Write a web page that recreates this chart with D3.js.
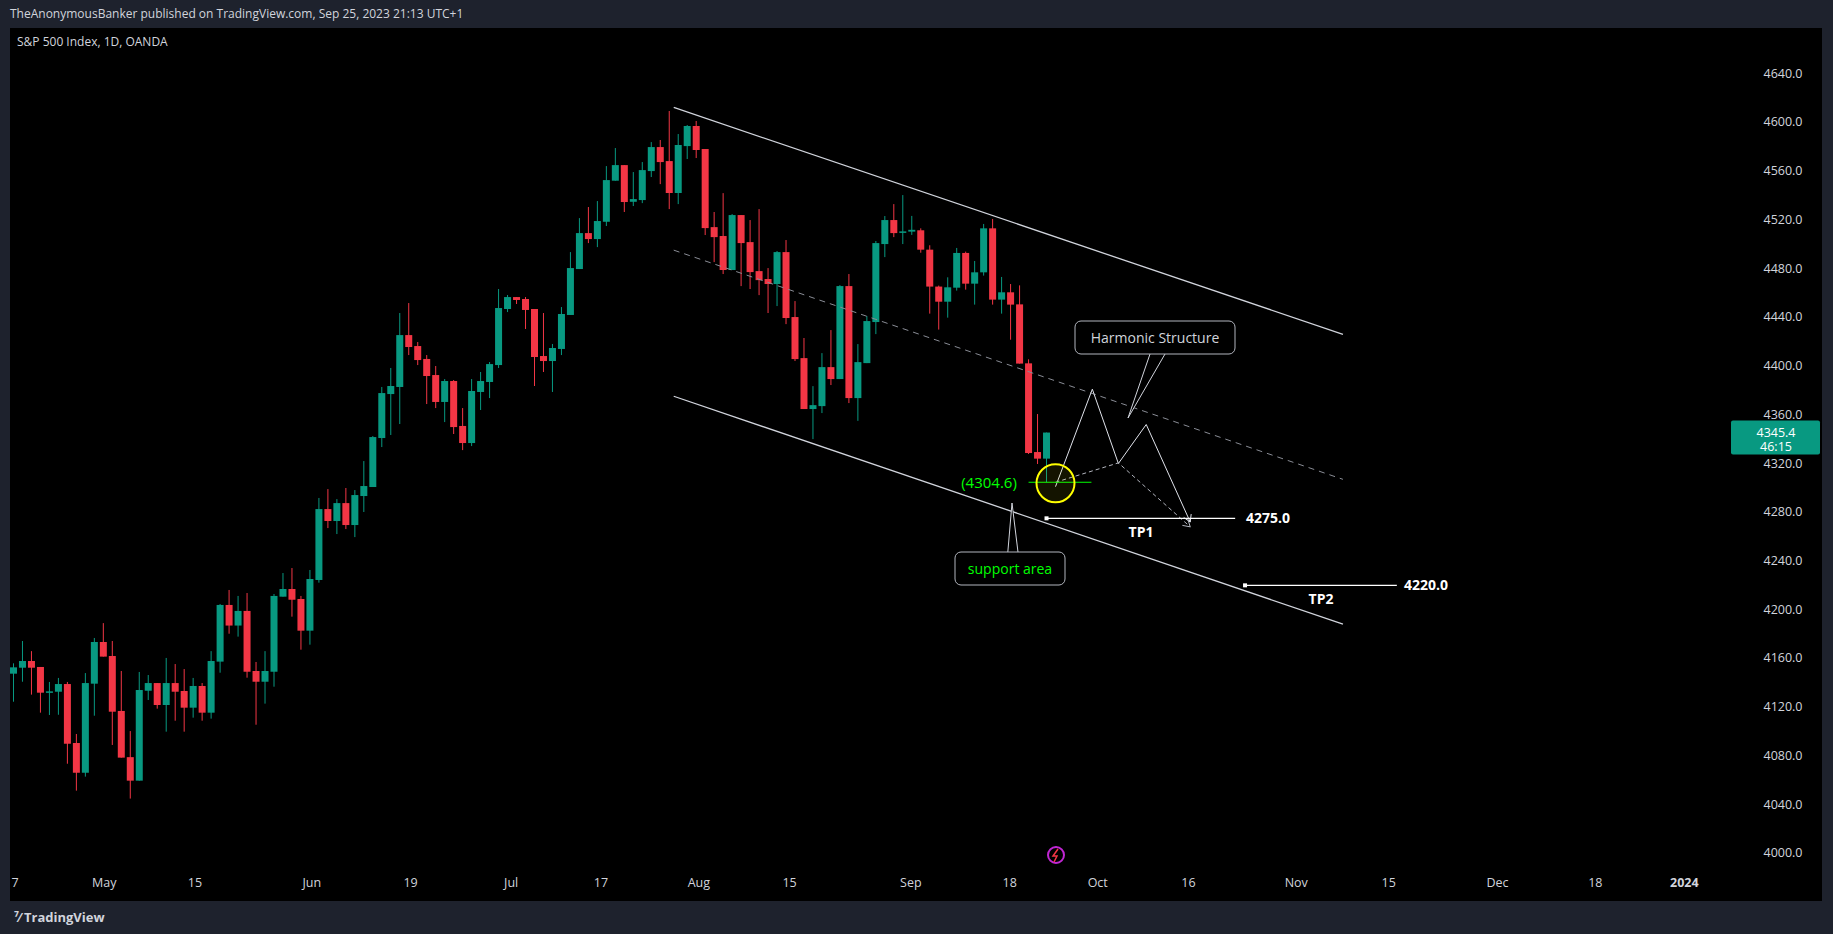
<!DOCTYPE html>
<html><head><meta charset="utf-8">
<script src="https://cdn.jsdelivr.net/npm/d3@7"></script>
<style>body{margin:0;background:#1e222d;overflow:hidden}svg{display:block}text{font-family:"Open Sans","Noto Sans",sans-serif}</style>
</head><body><svg id="c" width="1833" height="934"></svg>
<script>
const opens=[4147.5,4152.4,4157.9,4153,4132.2,4132.7,4139,4090.6,4066.2,4139.3,4173.5,4162,4116.9,4079,4059.7,4133.5,4139.8,4121.8,4139.8,4133.3,4119.6,4137.4,4115.5,4157.4,4203.9,4187,4199,4149.7,4140.9,4149.1,4210.7,4217,4208.8,4182.8,4224.4,4282.6,4272.8,4287.5,4269.5,4293.3,4300.7,4340.9,4377,4382.8,4425.4,4416.4,4405.8,4392.6,4370.5,4387.7,4350.8,4336.8,4378.7,4386.9,4400.8,4446.8,4456.6,4455,4446.8,4408.2,4404.1,4414,4441.9,4479.6,4509.1,4504.2,4518.4,4552.1,4564.9,4534.8,4536.2,4560,4579.7,4568.2,4542,4580.5,4597,4578.1,4514,4506.7,4478.8,4523.9,4501.7,4477.9,4471.4,4467.3,4493.5,4440.2,4406.5,4364.7,4367.1,4399.1,4389.3,4465.6,4373.7,4402.4,4436.1,4500.1,4519.8,4509.7,4510.3,4511.4,4495.5,4465.2,4452.8,4464.3,4492.8,4467.6,4476.9,4513,4454.5,4460.5,4450.6,4402.2,4329.4,4324];
const highs=[4156,4174.3,4166,4153,4140.7,4144,4140.7,4098,4148,4176.8,4189,4174.3,4149.7,4100.4,4148.9,4146.4,4139.8,4160.4,4155.4,4151.3,4144,4139.8,4166,4204.7,4216.2,4211.3,4213.7,4157.1,4166,4212.9,4230.1,4234.2,4211.3,4232.6,4291.7,4299,4290.8,4299.9,4298.2,4322,4342.5,4382.8,4398.4,4443.5,4451.7,4419.7,4409,4400,4389.3,4388.5,4365.5,4389.3,4395.1,4403.3,4463.2,4458.3,4456.6,4456.6,4446.8,4443.5,4418.1,4448.4,4493.5,4521.4,4530.5,4535.4,4564.1,4578.9,4564.9,4559.2,4567.4,4583.8,4585.5,4609.3,4590.4,4597.8,4601.1,4578.1,4526.4,4541.9,4524.7,4523.9,4519.8,4528.8,4480.4,4494.4,4503.4,4453.3,4423,4383.5,4410.6,4429.5,4466.4,4475.5,4418,4441,4502.6,4523.1,4532.9,4540.3,4523.2,4513,4499.1,4466,4472.8,4496.9,4493.9,4486.2,4516.6,4520.7,4473.1,4467.3,4466.2,4405.5,4360.6,4345.4];
const lows=[4124.5,4140.9,4130.3,4115.5,4113.6,4113.8,4073.6,4051.5,4063,4113,4161.5,4089,4078.6,4045,4059.7,4125.9,4118.8,4099.9,4108.9,4099.9,4111.4,4108.9,4110.6,4148.3,4180.3,4177.9,4144.2,4105.6,4122.9,4136.8,4210.7,4194.3,4167.2,4171.3,4222.2,4267,4262.1,4266.2,4259.6,4280.2,4300.7,4333.5,4343.4,4352.4,4409,4400.8,4368.8,4365.5,4354,4344.2,4331,4334.3,4363.9,4373.7,4398.4,4444.3,4450.9,4430.4,4383.6,4395.1,4378.7,4409,4441.9,4479.6,4500.9,4497.6,4514.9,4552.1,4526.4,4531.3,4533.7,4555.1,4549.3,4528.8,4532.9,4569.9,4570.7,4507.5,4485.3,4475.5,4478.8,4465.6,4463.2,4458.2,4443.5,4449.2,4434.4,4404.1,4364.7,4340,4361.4,4384.4,4389.3,4369.6,4355,4402.4,4426.2,4489.4,4505.8,4500.1,4507.6,4493,4443,4429.9,4439.7,4461.9,4462.7,4450.4,4474.2,4450.4,4443,4421.6,4402,4327.8,4319.6,4304.6];
const closes=[4152.7,4157.9,4152.4,4131.9,4133,4139,4090,4066.2,4139.8,4173.5,4161.5,4116.3,4078.6,4059.7,4134.1,4139.8,4121.8,4139.8,4132.7,4119.6,4137.4,4115.5,4157.9,4203.9,4187,4199,4149.1,4140.9,4149.7,4211.3,4217,4208.2,4182.8,4225.2,4282.6,4272.8,4287.5,4269.5,4294.1,4301.5,4341.7,4377.8,4383.6,4425.4,4415.6,4404.9,4391.8,4370.5,4387.7,4349.9,4336.8,4379.5,4387.7,4401.6,4447.6,4456.6,4454.2,4446,4407.4,4404.1,4414.8,4442.7,4480.4,4509.1,4504.2,4519,4552.6,4564.9,4534.6,4537,4560.8,4579.7,4567.4,4542,4581.4,4597,4577.3,4513.2,4505.8,4478.8,4523.9,4500.9,4477.1,4470.5,4467.3,4493.5,4439.4,4405.7,4364.7,4367.9,4399.1,4389.3,4465.6,4373.7,4403.2,4436.9,4500.9,4519.8,4509.1,4510.5,4511.8,4495.5,4465.2,4452.8,4464.6,4492.8,4467.6,4476.9,4513,4454.5,4460.5,4450.4,4402,4328.6,4324,4345.4];
const priceTicks=[4000,4040,4080,4120,4160,4200,4240,4280,4320,4360,4400,4440,4480,4520,4560,4600,4640];
const timeLabels=["May","15","Jun","19","Jul","17","Aug","15","Sep","18","Oct","16","Nov","15","Dec","18","2024"];
const timeIdx=[10.1,20.2,33.2,44.2,55.4,65.4,76.3,86.4,99.9,110.9,120.7,130.8,142.8,153.1,165.2,176.1,186];
const upperLine=[[73.5,4612.2],[148,4426]];
const lowerLine=[[73.5,4375.2],[148,4188.1]];
const midLine=[[73.5,4495.1],[148,4307]];
const zigzag=[[116,4301],[120.1,4381],[123,4320],[126.1,4352],[131,4272]];
const dashedPath=[[116,4304.6],[123,4320.5],[131,4268]];

const svg=d3.select("#c");
const x=d3.scaleLinear().domain([0,116]).range([13.5,1055.5]);
const y=d3.scaleLinear().domain([4000,4640]).range([853.4,73.6]);
const G="#089981",R="#f23645";
svg.append("rect").attr("x",0).attr("y",0).attr("width",1833).attr("height",934).attr("fill","#1e222d");
svg.append("rect").attr("x",10).attr("y",28).attr("width",1812).attr("height",873).attr("fill","#000");
svg.append("text").attr("x",10).attr("y",18).attr("fill","#d1d4dc").attr("font-size",12).text("TheAnonymousBanker published on TradingView.com, Sep 25, 2023 21:13 UTC+1");
svg.append("text").attr("x",17).attr("y",46).attr("fill","#d1d4dc").attr("font-size",12).text("S&P 500 Index, 1D, OANDA");
const g=svg.append("g");
const idx=d3.range(opens.length);
g.selectAll(".w").data(idx).join("line").attr("x1",i=>x(i)).attr("x2",i=>x(i)).attr("y1",i=>y(highs[i])).attr("y2",i=>y(lows[i])).attr("stroke",i=>closes[i]>=opens[i]?G:R).attr("stroke-width",1);
g.selectAll(".b").data(idx).join("rect").attr("x",i=>x(i)-3.5).attr("width",7).attr("y",i=>y(Math.max(opens[i],closes[i]))).attr("height",i=>Math.max(1.5,Math.abs(y(opens[i])-y(closes[i])))).attr("fill",i=>closes[i]>=opens[i]?G:R);
const pa=svg.append("g");
pa.selectAll("text").data(priceTicks).join("text").attr("x",1783).attr("y",d=>y(d)+4).attr("text-anchor","middle").attr("fill","#d1d4dc").attr("font-size",12.5).text(d=>d.toFixed(1));
svg.append("text").attr("x",15).attr("y",887).attr("text-anchor","middle").attr("fill","#d1d4dc").attr("font-size",12.5).text("7");
svg.selectAll(".t").data(timeIdx).join("text").attr("x",d=>x(d)).attr("y",887).attr("text-anchor","middle").attr("fill","#d1d4dc").attr("font-size",12.5).attr("font-weight",(d,i)=>timeLabels[i]==="2024"?"bold":null).text((d,i)=>timeLabels[i]);
const L=d3.line().x(d=>x(d[0])).y(d=>y(d[1]));
svg.append("path").attr("d",L(upperLine)).attr("stroke","#d1d4dc").attr("stroke-width",1.3).attr("fill","none");
svg.append("path").attr("d",L(lowerLine)).attr("stroke","#d1d4dc").attr("stroke-width",1.3).attr("fill","none");
svg.append("path").attr("d",L(midLine)).attr("stroke","#8a8d96").attr("stroke-width",1).attr("stroke-dasharray","6,5").attr("fill","none");
svg.append("path").attr("d",L(zigzag)).attr("stroke","#e0e3eb").attr("stroke-width",1).attr("fill","none");
svg.append("path").attr("d",L(dashedPath)).attr("stroke","#b2b5be").attr("stroke-width",1).attr("stroke-dasharray","4,3").attr("fill","none");
function arrow(p,q,col){const a=Math.atan2(y(q[1])-y(p[1]),x(q[0])-x(p[0]));const ex=x(q[0]),ey=y(q[1]);
 [a+2.6,a-2.6].forEach(b=>svg.append("line").attr("x1",ex).attr("y1",ey).attr("x2",ex+8*Math.cos(b)).attr("y2",ey+8*Math.sin(b)).attr("stroke",col).attr("stroke-width",1));}
arrow(zigzag[3],zigzag[4],"#e0e3eb");arrow(dashedPath[1],dashedPath[2],"#b2b5be");
svg.append("line").attr("x1",x(113)).attr("x2",x(120)).attr("y1",y(4304.6)).attr("y2",y(4304.6)).attr("stroke","#00ff00").attr("stroke-width",1.2);
svg.append("circle").attr("cx",x(116)).attr("cy",y(4304.6)+1).attr("r",19).attr("fill","rgba(255,255,0,0.08)").attr("stroke","#ffff00").attr("stroke-width",2);
svg.append("text").attr("x",989).attr("y",y(4304.6)+6).attr("text-anchor","middle").attr("fill","#00ff00").attr("font-size",15).text("(4304.6)");
[[115,136,4275,"4275.0",1268,"TP1",1141,537],[137.1,154,4220,"4220.0",1426,"TP2",1321,604]].forEach(t=>{
 svg.append("line").attr("x1",x(t[0])).attr("x2",x(t[1])).attr("y1",y(t[2])).attr("y2",y(t[2])).attr("stroke","#fff").attr("stroke-width",1.3);
 svg.append("rect").attr("x",x(t[0])-2).attr("y",y(t[2])-2).attr("width",4).attr("height",4).attr("fill","#fff");
 svg.append("text").attr("x",t[4]).attr("y",y(t[2])+5).attr("text-anchor","middle").attr("fill","#fff").attr("font-size",14).attr("font-weight","bold").text(t[3]);
 svg.append("text").attr("x",t[6]).attr("y",t[7]).attr("text-anchor","middle").attr("fill","#fff").attr("font-size",14).attr("font-weight","bold").text(t[5]);
});
function callout(bx,by,bw,bh,px,py,pa,pb,txt,col){
 svg.append("path").attr("d",`M${pa},${by+bh} L${px},${py} L${pb},${by+bh}`).attr("stroke","#d1d4dc").attr("fill","#000");
 svg.append("rect").attr("x",bx).attr("y",by).attr("width",bw).attr("height",bh).attr("rx",6).attr("fill","#000").attr("stroke","#b2b5be");
 svg.append("text").attr("x",bx+bw/2).attr("y",by+bh/2+5).attr("text-anchor","middle").attr("fill",col).attr("font-size",14).text(txt);
}
callout(1075,321,160,33,1128,418,1150,1165,"Harmonic Structure","#d1d4dc");
callout(955,552,110,33,1012,503,1005,1022,"support area","#00ff00");
svg.append("rect").attr("x",1731).attr("y",y(4345.4)-12).attr("width",89).attr("height",34).attr("rx",2).attr("fill",G);
svg.append("text").attr("x",1776).attr("y",y(4345.4)+4).attr("text-anchor","middle").attr("fill","#fff").attr("font-size",12.5).text("4345.4");
svg.append("text").attr("x",1776).attr("y",y(4345.4)+18).attr("text-anchor","middle").attr("fill","#fff").attr("font-size",12.5).text("46:15");
svg.append("circle").attr("cx",1056).attr("cy",855).attr("r",8).attr("fill","none").attr("stroke","#c026d3").attr("stroke-width",2);
svg.append("path").attr("d","M1058,849 L1053,856 L1057,856 L1054,862").attr("stroke","#f23645").attr("fill","none").attr("stroke-width",1.5);
svg.append("text").attr("x",14).attr("y",922).attr("fill","#d1d4dc").attr("font-size",13).attr("font-weight","bold").text("⁷⁄ TradingView");
</script></body></html>
